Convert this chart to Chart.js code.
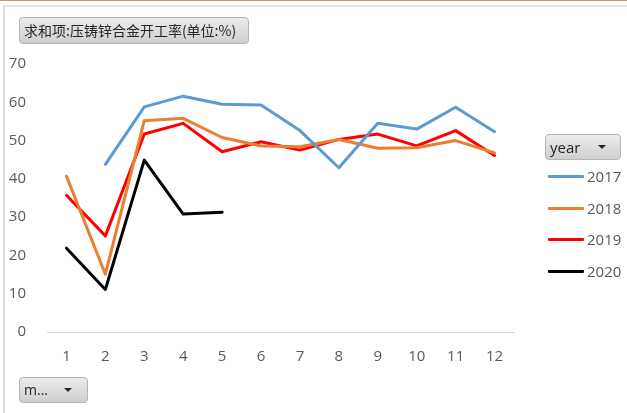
<!DOCTYPE html>
<html>
<head>
<meta charset="utf-8">
<script src="https://cdn.jsdelivr.net/npm/chart.js@4/dist/chart.umd.min.js"></script>
<style>
    body { margin: 0; background: #fff; width: 627px; height: 413px; overflow: hidden; position: relative; font-family: 'Open Sans', 'Noto Sans', sans-serif; }
    #topLine { position: absolute; left: 0; top: 0; width: 627px; height: 1px; background: #bf9f63; }
    #frameTop { position: absolute; left: 4px; top: 5px; width: 623px; height: 2px; background: #e1e1e1; }
    #frameLeft { position: absolute; left: 3px; top: 5px; width: 2px; height: 408px; background: #e1e1e1; }
    #chart { position: absolute; left: 0; top: 0; }
    .btn {
        position: absolute; box-sizing: border-box;
        border: 1px solid #b4b4b4; border-radius: 4px;
        background: linear-gradient(#ececec, #cfcfcf);
        color: #262626; font-size: 14px; line-height: 24px; padding-left: 4px;
        white-space: nowrap;
    }
    .arrow { position: absolute; width: 0; height: 0; border-left: 4px solid transparent; border-right: 4px solid transparent; border-top: 4px solid #262626; top: 10px; }
    #legend { position: absolute; left: 548px; top: 165px; }
    .item { position: absolute; left: 0; width: 80px; height: 20px; }
    .item .swatch { position: absolute; left: 0; top: 10px; width: 36px; height: 3px; border-radius: 1px; }
    .item .label { position: absolute; left: 39px; top: 0; font-size: 15px; color: #595959; line-height: 22px; }
</style>
</head>
<body>
<div id="topLine"></div>
<div id="frameTop"></div>
<div id="frameLeft"></div>
<canvas id="chart" width="627" height="413"></canvas>
<div class="btn" style="left:19px;top:17px;width:230px;height:27px;font-family:'Noto Sans CJK SC',sans-serif;">求和项:压铸锌合金开工率(单位:%)</div>
<div class="btn" style="left:545px;top:134px;width:76px;height:26px;font-size:15px;">year<span class="arrow" style="left:52px;"></span></div>
<div class="btn" style="left:19px;top:377px;width:69px;height:26px;">m...<span class="arrow" style="left:44px;"></span></div>
<div id="legend"></div>
<script>
const months = ['1', '2', '3', '4', '5', '6', '7', '8', '9', '10', '11', '12'];
const years = ['2017', '2018', '2019', '2020'];
const values2017 = [null, 43.8, 58.8, 61.6, 59.5, 59.3, 52.6, 42.9, 54.5, 53.0, 58.7, 52.3];
const values2018 = [40.7, 15.1, 55.2, 55.8, 50.8, 48.6, 48.4, 50.3, 48.0, 48.1, 50.0, 46.8];
const values2019 = [35.7, 25.1, 51.7, 54.5, 47.1, 49.7, 47.5, 50.3, 51.7, 48.6, 52.6, 46.1];
const values2020 = [21.9, 11.1, 44.9, 30.8, 31.3, null, null, null, null, null, null, null];
const yearColors = ['#5B9BD5', '#ED7D31', '#FF0000', '#000000'];
const yTicks = [0, 10, 20, 30, 40, 50, 60, 70];

const seriesValues = [values2017, values2018, values2019, values2020];

/**
 * Construye los datasets de cada año
 */
function buildDatasets(){
    const datasets = [];
    years.forEach((year, i) => {
        datasets.push({
            label: year,
            data: seriesValues[i],
            borderColor: yearColors[i],
            backgroundColor: yearColors[i],
            borderWidth: 3,
            pointRadius: 0,
            pointHoverRadius: 0,
            tension: 0,
            spanGaps: false,
            borderJoinStyle: 'round',
            borderCapStyle: 'round'
        });
    });
    return datasets;
}

const tickFont = { family: "'Open Sans', 'Noto Sans', sans-serif", size: 15 };

const ctx = document.getElementById('chart').getContext('2d');
const yearChart = new Chart(ctx, {
    type: 'line',
    data: {
        labels: months,
        datasets: buildDatasets()
    },
    options: {
        responsive: false,
        animation: false,
        layout: {
            padding: { left: 0, top: 64, right: 113, bottom: 0 }
        },
        plugins: {
            legend: { display: false },
            tooltip: { enabled: false }
        },
        scales: {
            x: {
                offset: true,
                grid: { display: false },
                border: { display: true, color: '#d9d9d9', width: 1 },
                ticks: { color: '#595959', font: tickFont, padding: 8, maxRotation: 0 },
                afterFit: (scale) => { scale.height = 81; }
            },
            y: {
                min: 0,
                max: 70,
                afterBuildTicks: (scale) => { scale.ticks = yTicks.map(v => ({ value: v })); },
                grid: { display: false },
                border: { display: false },
                ticks: { color: '#595959', font: tickFont, padding: 13 },
                afterFit: (scale) => { scale.width = 47; }
            }
        }
    }
});

// Leyenda a la derecha
const legend = document.getElementById('legend');
yearChart.data.datasets.forEach((ds, i) => {
    const item = document.createElement('div');
    item.className = 'item';
    item.style.top = (i * 31.5) + 'px';
    item.innerHTML = '<div class="swatch" style="background:' + ds.borderColor + '"></div><div class="label">' + ds.label + '</div>';
    legend.appendChild(item);
});
</script>
</body>
</html>
